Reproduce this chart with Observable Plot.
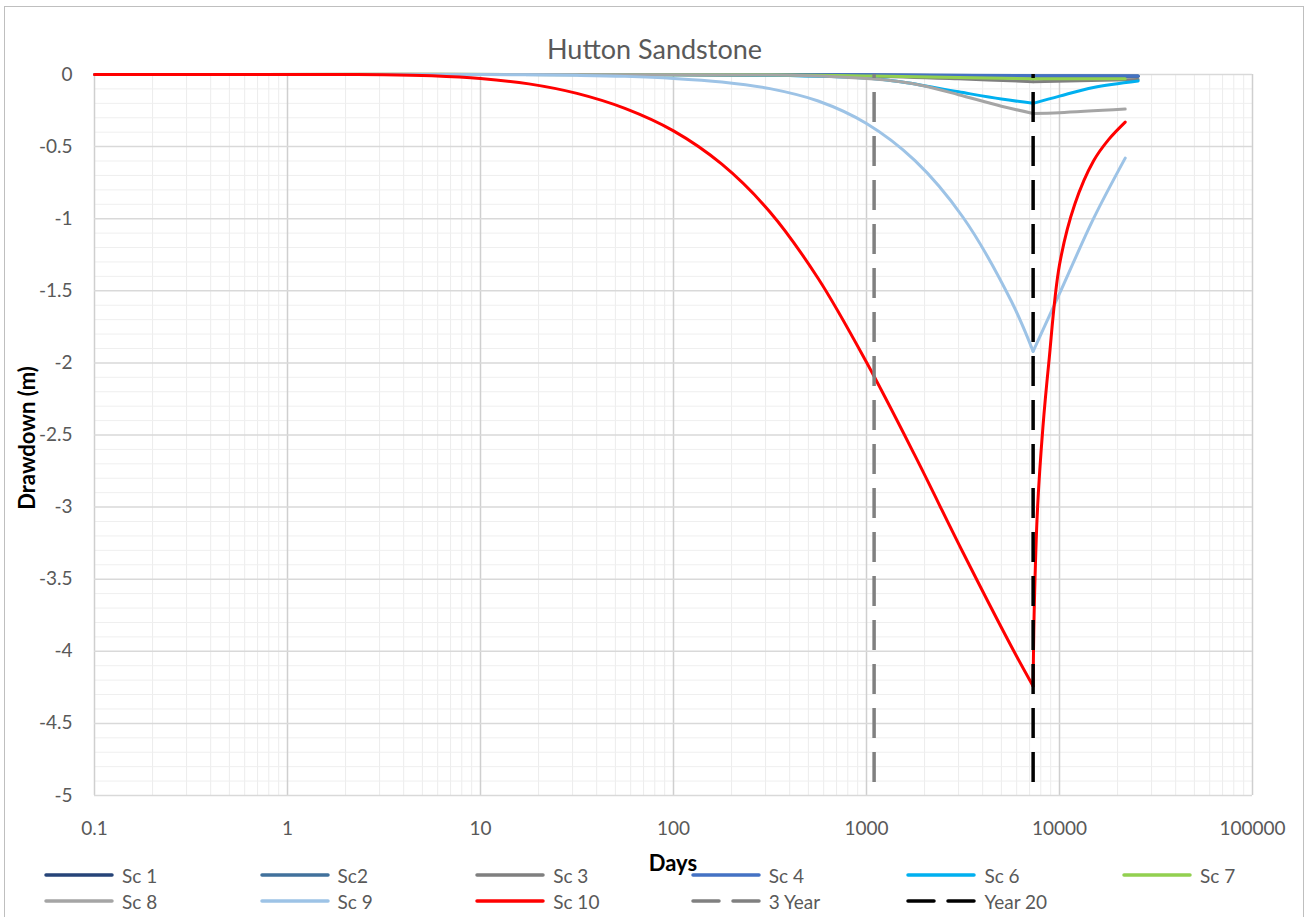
<!DOCTYPE html>
<html>
<head>
<meta charset="utf-8">
<script src="https://cdn.jsdelivr.net/npm/d3@7"></script>
<script src="https://cdn.jsdelivr.net/npm/@observablehq/plot@0.6"></script>
<style>
  html, body { margin: 0; padding: 0; background: #fff; }
  #wrap { position: relative; width: 1309px; height: 917px; overflow: hidden; font-family: Lato, "Open Sans", sans-serif; }
  #border { position: absolute; left: 4px; top: 6px; width: 1300px; height: 920px; border: 1px solid #bfbfbf; box-sizing: border-box; }
  #chart { position: absolute; left: 0; top: 0; }
  #title { position: absolute; left: 0; width: 1309px; top: 32px; text-align: center; font-size: 27px; color: #595959; }
  #ytitle { position: absolute; left: 26px; top: 438px; transform: translate(-50%, -50%) rotate(-90deg); font-size: 22px; font-weight: bold; color: #000; white-space: nowrap; }
  #xtitle { position: absolute; left: 673px; top: 862px; transform: translate(-50%, -50%); font-size: 22px; font-weight: bold; color: #000; }
  .leg { position: absolute; display: flex; align-items: center; font-size: 19px; color: #595959; white-space: nowrap; }
  .leg svg { margin-right: 8px; }
</style>
</head>
<body>
<div id="wrap">
  <div id="border"></div>
  <div id="chart"></div>
  <div id="title">Hutton Sandstone</div>
  <div id="ytitle">Drawdown (m)</div>
  <div id="xtitle">Days</div>
</div>
<script>
// ---- data (days, drawdown m) ----
const xTickValues = [0.1, 1, 10, 100, 1000, 10000, 100000];
const xTickLabels = ["0.1", "1", "10", "100", "1000", "10000", "100000"];
const yTickValues = [0, -0.5, -1, -1.5, -2, -2.5, -3, -3.5, -4, -4.5, -5];
const yTickLabels = ["0", "-0.5", "-1", "-1.5", "-2", "-2.5", "-3", "-3.5", "-4", "-4.5", "-5"];

const seriesNames = ["Sc 1", "Sc2", "Sc 3", "Sc 4", "Sc 6", "Sc 7", "Sc 8", "Sc 9", "Sc 10"];
const seriesColors = ["#264478", "#41719C", "#7F7F7F", "#4472C4", "#00B0F0", "#92D050", "#A5A5A5", "#9DC3E6", "#FF0000"];

const sc1 = [[0.1, 0], [100, 0], [1000, -0.003], [7300, -0.012], [25550, -0.012]];
const sc2 = [[0.1, 0], [100, 0], [1000, -0.003], [7300, -0.01], [25550, -0.01]];
const sc3 = [[0.1, 0], [100, -0.001], [1000, -0.012], [3000, -0.03], [7300, -0.05], [25550, -0.035]];
const sc4 = [[0.1, 0], [100, 0], [1000, -0.002], [7300, -0.008], [25550, -0.01]];
const sc6 = [[0.1, 0], [100, -0.001], [300, -0.005], [1000, -0.025], [1500, -0.05], [3000, -0.12], [5000, -0.17], [7300, -0.2], [10000, -0.15], [15000, -0.09], [25550, -0.045]];
const sc7 = [[0.1, 0], [300, -0.002], [1000, -0.01], [3000, -0.02], [7300, -0.03], [21900, -0.03]];
const sc8 = [[0.1, 0], [100, -0.001], [300, -0.003], [500, -0.008], [1000, -0.028], [1500, -0.05], [2000, -0.08], [3000, -0.14], [5000, -0.22], [7300, -0.27], [10000, -0.265], [21900, -0.24]];
const sc9 = [[0.1, 0], [10, 0], [17.8, -0.002], [31.6, -0.006], [56, -0.013], [100, -0.027], [178, -0.052], [316, -0.098], [562, -0.184], [1000, -0.34], [1778, -0.596], [3162, -0.99], [5623, -1.571], [7300, -1.92], [10000, -1.52], [15000, -1.0], [21900, -0.58]];
const sc10 = [[0.1, 0], [1, 0], [2, 0], [3.16, -0.001], [5.6, -0.009], [10, -0.028], [17.8, -0.065], [31.6, -0.131], [56, -0.235], [100, -0.391], [178, -0.622], [316, -0.953], [562, -1.415], [1000, -1.996], [1778, -2.64], [3162, -3.315], [5623, -3.965], [7300, -4.242], [7400, -3.7], [7700, -3.0], [8200, -2.45], [8800, -2.0], [10000, -1.32], [12000, -0.9], [15000, -0.6], [18000, -0.45], [21900, -0.33]];
const seriesData = [sc1, sc2, sc3, sc4, sc6, sc7, sc8, sc9, sc10];

const markerNames = ["3 Year", "Year 20"];
const markerDays = [1095, 7300];
const markerColors = ["#808080", "#000000"];

// ---- chart ----
const minorX = [];
for (let e = -1; e < 5; e++) for (let m = 2; m <= 9; m++) minorX.push(m * Math.pow(10, e));
const minorY = d3.range(0, 51).map(i => -i / 10).filter(v => !yTickValues.includes(v));

// split each series at its deepest point so the V stays sharp, smooth elsewhere
const lineMarks = [];
seriesData.forEach((s, i) => {
  const iMin = d3.minIndex(s, d => d[1]);
  const parts = (iMin > 0 && iMin < s.length - 1) ? [s.slice(0, iMin + 1), s.slice(iMin)] : [s];
  parts.forEach(p => lineMarks.push(Plot.line(p, {
    x: d => d[0], y: d => d[1], stroke: seriesColors[i], strokeWidth: 3, curve: "catmull-rom"
  })));
});
const ruleMarks = markerDays.map((d, i) => Plot.ruleX([d], {
  y1: 0, y2: -5, stroke: markerColors[i], strokeWidth: 3.5, strokeDasharray: "30,14", strokeDashoffset: 26
}));

const chart = Plot.plot({
  width: 1309, height: 840,
  marginLeft: 94, marginRight: 57, marginTop: 74, marginBottom: 45,
  x: { type: "log", domain: [0.1, 100000] },
  y: { domain: [-5, 0] },
  style: { fontFamily: "Lato, 'Open Sans', sans-serif", fontSize: "19px", color: "#595959", background: "transparent", overflow: "visible" },
  marks: [
    Plot.ruleX(minorX, { stroke: "#ececec", strokeWidth: 1 }),
    Plot.ruleY(minorY, { stroke: "#efefef", strokeWidth: 1 }),
    Plot.ruleX(xTickValues, { stroke: "#cfcfcf", strokeWidth: 1.5 }),
    Plot.ruleY(yTickValues, { stroke: "#d9d9d9", strokeWidth: 1.5 }),
    Plot.axisX({ ticks: xTickValues, tickSize: 0, tickPadding: 26, tickFormat: d => xTickLabels[xTickValues.indexOf(d)], label: null }),
    Plot.axisY({ ticks: yTickValues, tickSize: 0, tickPadding: 22, tickFormat: d => yTickLabels[yTickValues.indexOf(d)], label: null }),
    ...lineMarks,
    ...ruleMarks
  ]
});
document.getElementById("chart").appendChild(chart);

// ---- legend ----
const legendItems = seriesNames.map((n, i) => ({ name: n, color: seriesColors[i], dash: null }))
  .concat(markerNames.map((n, i) => ({ name: n, color: markerColors[i], dash: "31,12" })));
const wrap = document.getElementById("wrap");
legendItems.forEach((it, i) => {
  const col = i % 6, row = Math.floor(i / 6);
  const div = document.createElement("div");
  div.className = "leg";
  div.style.left = (44 + col * 215.6) + "px";
  div.style.top = (875 + row * 26 - 12) + "px";
  div.style.height = "24px";
  const ns = "http://www.w3.org/2000/svg";
  const svg = document.createElementNS(ns, "svg");
  svg.setAttribute("width", 70); svg.setAttribute("height", 10);
  const ln = document.createElementNS(ns, "line");
  ln.setAttribute("x1", 2); ln.setAttribute("x2", 68); ln.setAttribute("y1", 5); ln.setAttribute("y2", 5);
  ln.setAttribute("stroke", it.color); ln.setAttribute("stroke-width", 3.5); ln.setAttribute("stroke-linecap", "round");
  if (it.dash) ln.setAttribute("stroke-dasharray", "26,14");
  svg.appendChild(ln);
  div.appendChild(svg);
  const sp = document.createElement("span");
  sp.textContent = it.name;
  div.appendChild(sp);
  wrap.appendChild(div);
});
</script>
</body>
</html>
